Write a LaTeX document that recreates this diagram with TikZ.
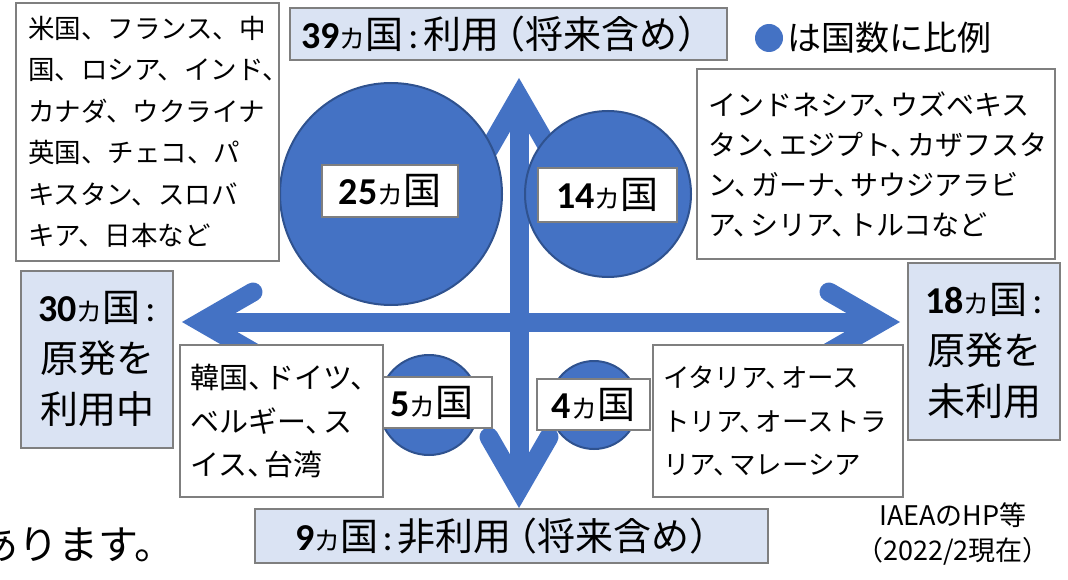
\documentclass[tikz,border=0pt]{standalone}
\usepackage{fontspec}
\usepackage{graphicx}
\setmainfont{Noto Sans CJK JP}
\newfontfamily\numf{Carlito}
\definecolor{arrowblue}{HTML}{4472C4}
\definecolor{circedge}{HTML}{2F528F}
\definecolor{lightfill}{HTML}{DAE3F3}
\definecolor{boxgray}{HTML}{7F7F7F}
\newcommand\ka{\scalebox{0.68}{カ}}
\newcommand\num[1]{{\numf\bfseries #1}}
\newcommand\cl{{\numf\hspace{0.12em}:\hspace{0.12em}}}
\newcommand\tc{、\kern-0.4em}
\newcommand\lp{\kern-0.3em（}
\begin{document}
\begin{tikzpicture}[x=1pt,y=-1pt,
  arrowstroke/.style={draw=arrowblue, line width=19pt},
  headstroke/.style={arrowstroke, line cap=round, line join=miter},
  bubble/.style={fill=arrowblue, draw=circedge, line width=2pt},
  listbox/.style={draw=boxgray, fill=white, line width=1.5pt, align=left, inner ysep=0pt, anchor=center},
  bluebox/.style={draw=boxgray, fill=lightfill, line width=1.5pt, align=center, inner sep=0pt, anchor=center},
  labelbox/.style={draw=boxgray, fill=white, line width=1.5pt, align=center, inner sep=0pt, anchor=center, font=\fontsize{38}{40}\selectfont},
  plain/.style={inner sep=0pt}
]
\useasboundingbox (0,0) rectangle (1068,580);
\clip (0,0) rectangle (1068,580);

% cross of arrows
\coordinate (VL) at (201,322);
\coordinate (VR) at (881,322);
\coordinate (VT) at (519,97);
\coordinate (VB) at (519,489);
\coordinate (L1) at (253,292); \coordinate (L2) at (253,352);
\coordinate (R1) at (829,292); \coordinate (R2) at (829,352);
\coordinate (T1) at (489,149); \coordinate (T2) at (549,149);
\coordinate (B1) at (489,437); \coordinate (B2) at (549,437);
\draw[arrowstroke] (VL) -- (VR);
\draw[arrowstroke] (VT) -- (VB);
\draw[headstroke] (L1) -- (VL) -- (L2);
\draw[headstroke] (R1) -- (VR) -- (R2);
\draw[headstroke] (T1) -- (VT) -- (T2);
\draw[headstroke] (B1) -- (VB) -- (B2);

% bubbles
\node[bubble, circle, minimum size=222pt, inner sep=0pt] (c25) at (391,194) {};
\node[bubble, circle, minimum size=166pt, inner sep=0pt] (c14) at (608,194) {};
\node[bubble, circle, minimum size=100pt, inner sep=0pt] (c5) at (429,405) {};
\node[bubble, circle, minimum size=88pt, inner sep=0pt] (c4) at (594,405) {};

\node[labelbox, minimum width=136pt, minimum height=52pt] (l25) at (390,191) {\num{25}\ka 国};
\node[labelbox, minimum width=139pt, minimum height=54pt] (l14) at (607.5,195) {\num{14}\ka 国};
\node[labelbox, minimum width=120pt, minimum height=51pt] (l5) at (432,402.5) {\num{5}\ka 国};
\node[labelbox, minimum width=113pt, minimum height=51pt] (l4) at (593.5,404.5) {\num{4}\ka 国};

% list boxes
\node[listbox, inner xsep=12pt, text width=239pt, minimum height=258pt,
  font=\fontsize{26.5}{41.5}\selectfont] (tl) at (147.5,132)
  {米国、フランス、中\\国、ロシア、インド、\\カナダ、ウクライナ\\英国、チェコ、パ\\キスタン、スロバ\\キア、日本など};
\node[listbox, inner xsep=11pt, text width=336pt, minimum height=190pt,
  font=\fontsize{28}{40}\selectfont] (tr) at (876,164)
  {インドネシア\tc ウズベキス\\タン\tc エジプト\tc カザフスタ\\ン\tc ガーナ\tc サウジアラビ\\ア\tc シリア\tc トルコなど};
\node[listbox, inner xsep=10pt, text width=183pt, minimum height=152pt,
  font=\fontsize{29}{43.5}\selectfont] (bl) at (281.5,421)
  {韓国\tc ドイツ\tc\\ベルギー\tc ス\\イス\tc 台湾};
\node[listbox, inner xsep=10pt, text width=230pt, minimum height=152pt,
  font=\fontsize{26.5}{43.5}\selectfont] (br) at (778,421)
  {イタリア\tc オース\\トリア\tc オーストラ\\リア\tc マレーシア};

% category boxes
\node[bluebox, minimum width=437pt, minimum height=52pt, font=\fontsize{38}{40}\selectfont] (top) at (508.5,34)
  {\num{39}\ka 国\cl 利用\lp 将来含め）};
\node[bluebox, minimum width=513pt, minimum height=54pt, font=\fontsize{38}{40}\selectfont] (bottom) at (511.5,536)
  {\num{9}\ka 国\cl 非利用\lp 将来含め）};
\node[bluebox, minimum width=152pt, minimum height=177pt, font=\fontsize{38}{51}\selectfont] (left) at (97,359.5)
  {\num{30}\ka 国\cl\\原発を\\利用中};
\node[bluebox, minimum width=152pt, minimum height=177pt, font=\fontsize{38}{51}\selectfont] (right) at (984,351.5)
  {\num{18}\ka 国\cl\\原発を\\未利用};

% legend
\node[circle, fill=arrowblue, minimum size=28pt, inner sep=0pt] (dot) at (769,38) {};
\node[plain, anchor=west, font=\fontsize{34}{36}\selectfont] (legend) at (787,38) {は国数に比例};

% source
\node[plain, align=center, font=\fontsize{27}{35}\selectfont] (src) at (953,534.5) {IAEAのHP等\\（2022/2現在）};

% cut-off slide text
\node[plain, anchor=west, font=\fontsize{40}{42}\selectfont] (tail) at (-22,545) {あります。};
\end{tikzpicture}
\end{document}
